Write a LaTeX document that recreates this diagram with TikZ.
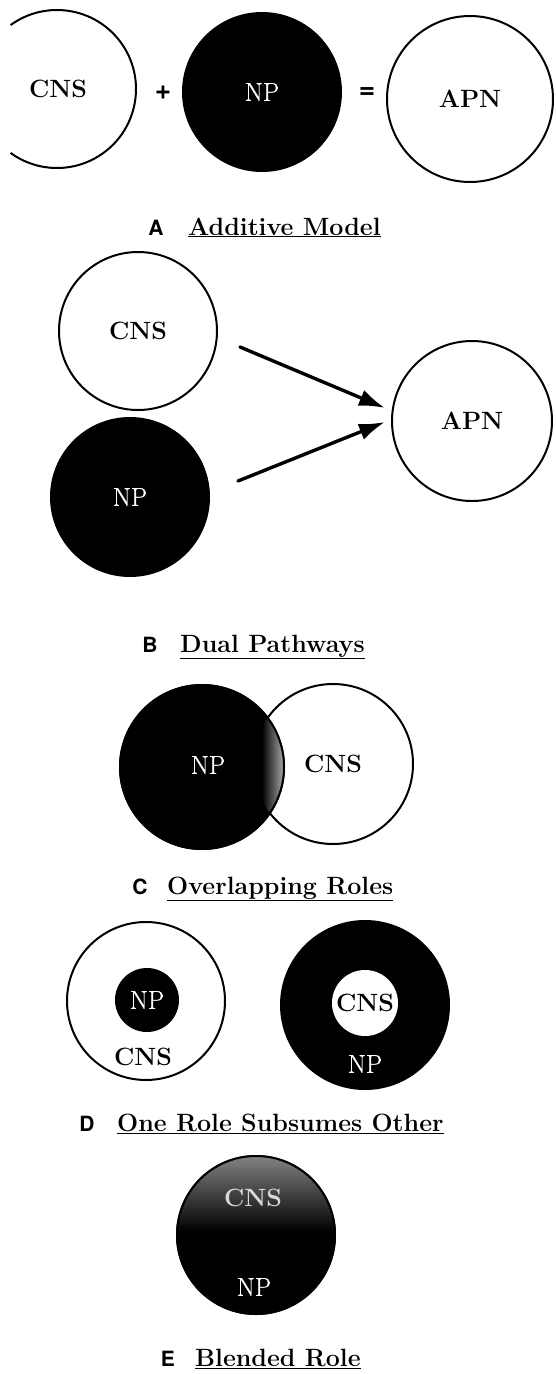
\documentclass[tikz,border=0pt]{standalone}
\usepackage{fontspec}
\newfontfamily\lab{TeX Gyre Heros}
\newfontfamily\npf{Latin Modern Roman}[FakeBold=0.6]
\usetikzlibrary{arrows.meta}
\begin{document}
\begin{tikzpicture}[x=1pt,y=1pt,
  ring/.style={circle,draw,line width=2pt,fill=white,inner sep=0pt,minimum size=#1},
  disc/.style={circle,draw,line width=2pt,fill=black,inner sep=0pt,minimum size=#1},
  hole/.style={circle,draw=none,fill=white,inner sep=0pt,minimum size=#1},
  bl/.style={font=\fontsize{25}{25}\selectfont\bfseries,inner sep=0pt},
  wl/.style={font=\npf\fontsize{26}{26}\selectfont,text=white,inner sep=0pt},
  ttl/.style={font=\fontsize{25}{28}\selectfont\bfseries,inner sep=0pt,anchor=base west},
  ltr/.style={font=\lab\bfseries\fontsize{21}{21}\selectfont,inner sep=0pt,anchor=base},
  op/.style={font=\lab\bfseries\fontsize{28}{28}\selectfont,inner sep=0pt},
  arr/.style={line width=3.4pt,line cap=round,-{Latex[length=26pt,width=17pt]}},
  outl/.style={line width=2pt}
]
\useasboundingbox (0,0) rectangle (555,-1374);

% ---------- A: Additive Model ----------
\coordinate (cA) at (57,-89);
\draw[outl] ([shift={(126:79)}]cA) arc[start angle=126,end angle=-126,radius=79];
\node[bl] (cnsA) at (58,-89) {CNS};
\node[op] (plus) at (163,-93) {+};
\node[disc=158pt,wl] (npA) at (262,-92) {NP};
\node[op] (eq) at (367,-93) {=};
\node[ring=166pt,bl] (apnA) at (470,-99) {APN};
\node[ltr] (la) at (156,-235) {A};
\node[ttl] (ta) at (188,-235) {\underline{Additive Model}};

% ---------- B: Dual Pathways ----------
\node[ring=158pt,bl] (cnsB) at (138,-331) {CNS};
\node[disc=158pt,wl] (npB) at (130,-497) {NP};
\node[ring=160pt,bl] (apnB) at (472,-421) {APN};
\coordinate (a1s) at (240,-347);
\coordinate (a1e) at (385,-408);
\coordinate (a2s) at (238,-481);
\coordinate (a2e) at (385,-422);
\draw[arr] (a1s) -- (a1e);
\draw[arr] (a2s) -- (a2e);
\node[ltr] (lb) at (150,-652) {B};
\node[ttl] (tb) at (180,-652) {\underline{Dual Pathways}};

% ---------- C: Overlapping Roles ----------
\node[ring=160pt,bl] (cnsC) at (333,-764) {CNS};
\node[disc=164pt] (npC) at (202,-767) {};
\begin{scope}
  \clip (202,-767) circle[radius=82];
  \clip (333,-764) circle[radius=80];
  \shade[left color=black,right color=black!30] (262,-680) rectangle (285,-850);
\end{scope}
\draw[outl] (npC.center) circle[radius=82];
\node[wl] (npCl) at (208,-765) {NP};
\node[ltr] (lc) at (140,-894) {C};
\node[ttl] (tc) at (167,-894) {\underline{Overlapping Roles}};

% ---------- D: One Role Subsumes Other ----------
\node[ring=158pt] (cnsD) at (146,-1001) {};
\node[disc=62pt,wl] (npD) at (147,-1000) {NP};
\node[bl] (cnsDl) at (143,-1057) {CNS};
\node[disc=168pt] (npD2) at (365,-1005) {};
\node[hole=66pt,bl] (cnsD2) at (365,-1003) {CNS};
\node[wl] (npD2l) at (365,-1064) {NP};
\node[ltr] (ld) at (87,-1131) {D};
\node[ttl] (td) at (117,-1131) {\underline{One Role Subsumes Other}};

% ---------- E: Blended Role ----------
\node[disc=158pt] (bE) at (256,-1235) {};
\begin{scope}
  \clip (256,-1235) circle[radius=79];
  \shade[top color=black!45,bottom color=black] (170,-1150) rectangle (345,-1232);
\end{scope}
\draw[outl] (bE.center) circle[radius=79];
\node[bl,text=white!85!black] (cnsE) at (253,-1198) {CNS};
\node[wl] (npE) at (254,-1287) {NP};
\node[ltr] (le) at (168,-1366) {E};
\node[ttl] (te) at (195,-1366) {\underline{Blended Role}};
\end{tikzpicture}
\end{document}
